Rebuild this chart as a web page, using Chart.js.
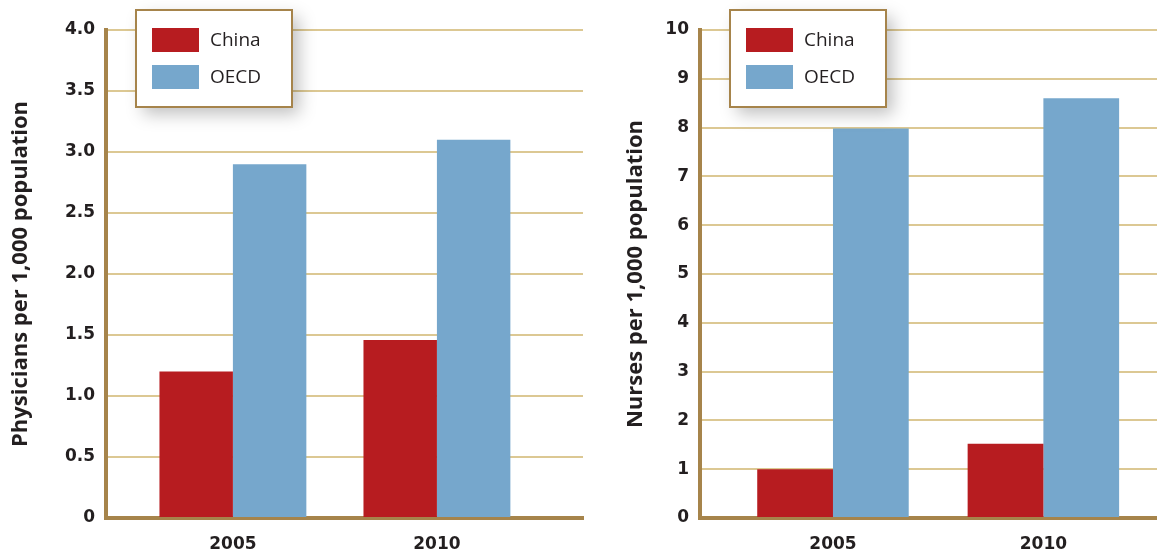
<!DOCTYPE html>
<html>
<head>
<meta charset="utf-8">
<script src="https://cdn.jsdelivr.net/npm/chart.js@4"></script>
<style>
  html, body { margin: 0; padding: 0; background: #fff; }
  #wrap { position: relative; width: 1157px; height: 555px; }
  #left { position: absolute; left: 0; top: 0; }
  #right { position: absolute; left: 615px; top: 0; }
</style>
</head>
<body>
<div id="wrap">
  <canvas id="left" width="600" height="555"></canvas>
  <canvas id="right" width="542" height="555"></canvas>
</div>
<script>
const years = [2005, 2010];
const seriesNames = ['China', 'OECD'];
const physiciansChina = [1.2, 1.46];
const physiciansOECD = [2.9, 3.1];
const nursesChina = [1.0, 1.52];
const nursesOECD = [7.98, 8.6];

const RED = '#b71c20';
const BLUE = '#76a7cc';
const BROWN = '#a6844b';
const GRID = '#dcc893';
const INK = '#231f20';
const TICK_FONT = { family: '"DejaVu Sans", sans-serif', size: 17, weight: 'bold' };

// boxed legend sitting inside the plot, with a soft drop shadow
const boxLegend = {
  id: 'boxLegend',
  afterDraw(chart) {
    const ctx = chart.ctx;
    const x = chart.chartArea.left + 30, y = 10, w = 156, h = 97;
    ctx.save();
    ctx.shadowColor = 'rgba(0,0,0,0.25)';
    ctx.shadowBlur = 16;
    ctx.shadowOffsetX = 7;
    ctx.shadowOffsetY = 7;
    ctx.fillStyle = '#fff';
    ctx.fillRect(x, y, w, h);
    ctx.restore();
    ctx.save();
    ctx.strokeStyle = BROWN;
    ctx.lineWidth = 2;
    ctx.strokeRect(x, y, w, h);
    ctx.font = '19px "Open Sans", sans-serif';
    ctx.textBaseline = 'middle';
    chart.data.datasets.forEach((ds, i) => {
      const ry = y + 18 + i * 37;
      ctx.fillStyle = ds.backgroundColor;
      ctx.fillRect(x + 16, ry, 47, 24);
      ctx.fillStyle = INK;
      ctx.fillText(ds.label, x + 74, ry + 13);
    });
    ctx.restore();
  }
};

function makeChart(id, title, china, oecd, yMax, step, xMin, xMax, axisWidth, padRight) {
  return new Chart(document.getElementById(id), {
    type: 'bar',
    data: {
      datasets: [
        { label: seriesNames[0], data: years.map((yr, i) => ({ x: yr, y: china[i] })), backgroundColor: RED },
        { label: seriesNames[1], data: years.map((yr, i) => ({ x: yr, y: oecd[i] })), backgroundColor: BLUE }
      ]
    },
    options: {
      responsive: false,
      animation: false,
      categoryPercentage: 0.72,
      barPercentage: 1.0,
      layout: { padding: { top: 30, right: padRight, left: 0, bottom: 0 } },
      plugins: { legend: { display: false }, tooltip: { enabled: false } },
      scales: {
        x: {
          type: 'linear',
          min: xMin,
          max: xMax,
          offset: false,
          afterBuildTicks: s => { s.ticks = years.map(v => ({ value: v })); },
          afterFit: s => { s.height = 37; },
          grid: { display: false, drawTicks: false },
          border: { color: BROWN, width: 4 },
          ticks: {
            padding: 16,
            color: INK,
            font: TICK_FONT,
            callback: v => String(v)
          }
        },
        y: {
          min: 0,
          max: yMax,
          afterFit: s => { s.width = axisWidth; },
          grid: { color: GRID, lineWidth: 2, drawTicks: false },
          border: { color: BROWN, width: 4 },
          ticks: {
            stepSize: step,
            padding: 11,
            color: INK,
            font: TICK_FONT,
            callback: v => v === 0 ? '0' : (step < 1 ? v.toFixed(1) : String(v))
          },
          title: {
            display: true,
            text: title,
            color: INK,
            padding: { top: 8, bottom: 0 },
            font: { family: '"Open Sans", sans-serif', size: 22, weight: 'bold' }
          }
        }
      }
    },
    plugins: [boxLegend]
  });
}

makeChart('left', 'Physicians per 1,000 population', physiciansChina, physiciansOECD,
  4, 0.5, 2001.89, 2013.58, 106, 17);
makeChart('right', 'Nurses per 1,000 population', nursesChina, nursesOECD,
  10, 1, 2001.84, 2012.7, 85, 0);
</script>
</body>
</html>
